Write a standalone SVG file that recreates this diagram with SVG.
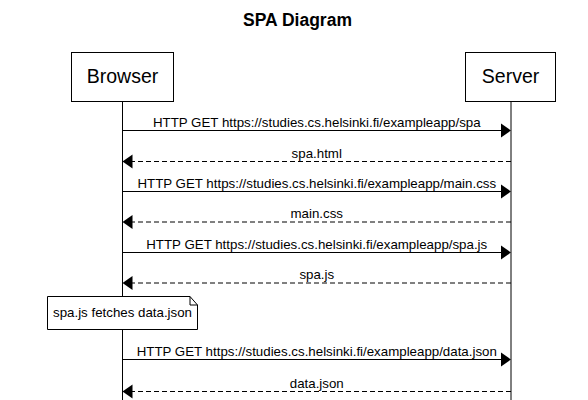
<svg xmlns="http://www.w3.org/2000/svg" width="588" height="400" viewBox="0 0 588 400">
<style>
text{font-family:"Liberation Sans",Arial,sans-serif;fill:#000}
.actor{fill:#fff;stroke:#000;stroke-width:1}
.actor-label{font-size:19.5px;text-anchor:middle}
.life{stroke:#000;stroke-width:1}
.msg{stroke:#000;stroke-width:1;fill:none}
.dash{stroke-dasharray:5,3}
.lbl{font-size:13.3px;text-anchor:middle}
.head{fill:#000}
.note{fill:#fff;stroke:#000;stroke-width:1}
</style>
<rect width="588" height="400" fill="#fff"/>
<text x="297.5" y="26" font-size="17.5" font-weight="bold" text-anchor="middle">SPA Diagram</text>
<g id="browser">
<line class="life" x1="122.5" y1="101" x2="122.5" y2="400"/>
<rect class="actor" x="71.5" y="52.5" width="102" height="49"/>
<text class="actor-label" x="122.5" y="83">Browser</text>
</g>
<g id="server">
<line class="life" x1="511" y1="101" x2="511" y2="400"/>
<rect class="actor" x="465.5" y="52.5" width="90" height="49"/>
<text class="actor-label" x="510.5" y="83">Server</text>
</g>
<g id="connectors">
<line class="msg" x1="122.5" y1="130.5" x2="502" y2="130.5"/>
<polygon class="head" points="511,130.5 501,123.5 501,137.5"/>
<text class="lbl" x="316.75" y="126.5">HTTP GET https://studies.cs.helsinki.fi/exampleapp/spa</text>
<line class="msg dash" x1="511" y1="161.5" x2="131.5" y2="161.5"/>
<polygon class="head" points="122.5,161.5 132.5,154.5 132.5,168.5"/>
<text class="lbl" x="316.75" y="157.5">spa.html</text>
<line class="msg" x1="122.5" y1="191.5" x2="502" y2="191.5"/>
<polygon class="head" points="511,191.5 501,184.5 501,198.5"/>
<text class="lbl" x="316.75" y="187.5">HTTP GET https://studies.cs.helsinki.fi/exampleapp/main.css</text>
<line class="msg dash" x1="511" y1="222" x2="131.5" y2="222"/>
<polygon class="head" points="122.5,222 132.5,215 132.5,229"/>
<text class="lbl" x="316.75" y="218">main.css</text>
<line class="msg" x1="122.5" y1="252.5" x2="502" y2="252.5"/>
<polygon class="head" points="511,252.5 501,245.5 501,259.5"/>
<text class="lbl" x="316.75" y="248.5">HTTP GET https://studies.cs.helsinki.fi/exampleapp/spa.js</text>
<line class="msg dash" x1="511" y1="283" x2="131.5" y2="283"/>
<polygon class="head" points="122.5,283 132.5,276 132.5,290"/>
<text class="lbl" x="316.75" y="279">spa.js</text>
<line class="msg" x1="122.5" y1="359.5" x2="502" y2="359.5"/>
<polygon class="head" points="511,359.5 501,352.5 501,366.5"/>
<text class="lbl" x="316.75" y="355.5">HTTP GET https://studies.cs.helsinki.fi/exampleapp/data.json</text>
<line class="msg dash" x1="511" y1="391.5" x2="131.5" y2="391.5"/>
<polygon class="head" points="122.5,391.5 132.5,384.5 132.5,398.5"/>
<text class="lbl" x="316.75" y="387.5">data.json</text>
</g>
<g id="note">
<path class="note" d="M47.5,296.5 H190 L197.5,305 V329.5 H47.5 Z"/>
<path class="msg" d="M190,296.5 V305 H197.5"/>
<text class="lbl" x="122.5" y="317">spa.js fetches data.json</text>
</g>
</svg>
